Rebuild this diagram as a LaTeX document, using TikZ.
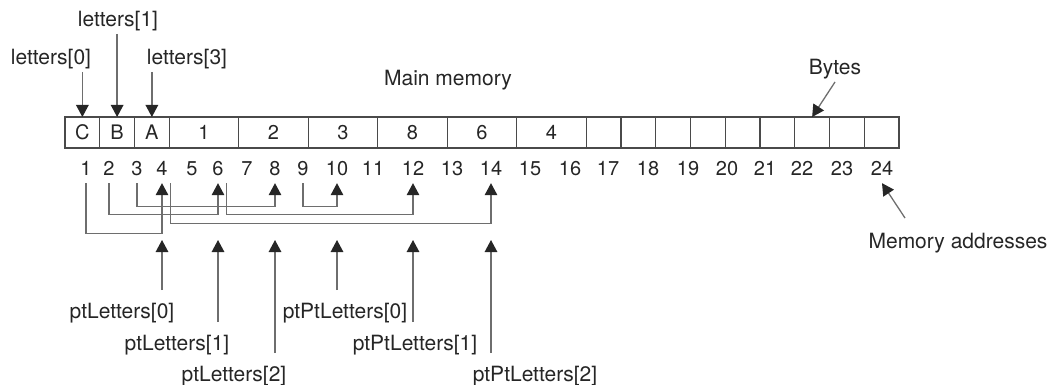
\documentclass[tikz,border=0pt]{standalone}
\usepackage{fontspec}
\setmainfont{TeX Gyre Heros}
\usetikzlibrary{arrows.meta,calc}
\definecolor{ink}{HTML}{262626}
\definecolor{wire}{HTML}{6E6E6E}
\definecolor{frame}{HTML}{4A4A4A}
\begin{document}
\begin{tikzpicture}[x=1pt,y=-1pt,
  lblfont/.style={font=\fontsize{21}{25}\selectfont, text=ink},
  numfont/.style={font=\fontsize{20}{24}\selectfont, text=ink},
  cell/.style={minimum height=31pt, inner sep=0pt, outer sep=0pt, numfont},
  rule/.style={draw=frame, line width=1.3pt},
  addr/.style={numfont, inner sep=0pt, text height=14.3pt, text depth=0pt, outer ysep=8pt},
  toplbl/.style={lblfont, anchor=base, inner sep=0pt, text height=15pt, text depth=4pt, outer ysep=3pt},
  botlbl/.style={lblfont, anchor=base, inner sep=0pt, text height=15pt, text depth=4pt, outer ysep=13pt},
  conn/.style={draw=wire, line width=1.3pt, -{Triangle[length=12pt,width=12.5pt,color=ink]}}
]
\useasboundingbox (0,0) rectangle (1055,385);

% memory cells (unit width 34.75pt, left edge at 65pt)
\foreach \l/\r/\t [count=\i] in {0/1/C,1/2/B,2/3/A,3/5/1,5/7/2,7/9/3,9/11/8,11/13/6,13/15/4,
    15/16/{},16/17/{},17/18/{},18/19/{},19/20/{},20/21/{},21/22/{},22/23/{},23/24/{}}{
  \pgfmathsetmacro\w{(\r-\l)*34.75}
  \pgfmathsetmacro\cx{65+(\l+\r)/2*34.75}
  \node[cell, minimum width=\w pt] (m\i) at (\cx,132.5) {\t};
}
% outer frame and cell dividers
\draw[rule] (m1.north west) rectangle (m18.south east);
\foreach \i in {1,...,17}{
  \draw[rule] (m\i.north east) -- (m\i.south east);
}

% memory addresses
\foreach \x [count=\i] in {86,109,137,162,192,218,247,275,303,337,373,413,452,491,530,570,608,648,688,727,765,802,842,882}{
  \node[addr] (a\i) at (\x,168) {\i};
}

% labels above the memory
\node[toplbl] (l0) at (51,65) {letters[0]};
\node[toplbl] (l1) at (118,27) {letters[1]};
\node[toplbl] (l3) at (187,65) {letters[3]};
\node[toplbl] (mm) at (448,86) {Main memory};
\node[toplbl] (bytes) at (835,75) {Bytes};
\node[toplbl] (maddr) at (958,248) {Memory addresses};

\draw[conn] (l0.south -| m1.north) -- (m1.north);
\draw[conn] (l1.south -| m2.north) -- (m2.north);
\draw[conn] (l3.south -| m3.north) -- (m3.north);
\draw[conn] (bytes.south) -- (m16.north);
\coordinate (maddrtail) at (905,218);
\draw[conn] (maddrtail) -- (a24.south);

% stored pointers: address -> address
\draw[conn] (a1.south) -- ++(0,50) -| (a4.south);
\draw[conn] (a2.south) -- ++(0,31) -| (a6.south);
\draw[conn] (a3.south) -- ++(0,23) -| (a8.south);
\draw[conn] (a9.south) -- ++(0,23) -| (a10.south);
\draw[conn] ($(a6.south)+(8.5,0)$) -- ++(0,31) -| (a12.south);
\draw[conn] ($(a4.south)+(8.5,0)$) -- ++(0,40) -| (a14.south);

% pointer names below
\node[botlbl] (pl0) at (122,318) {ptLetters[0]};
\node[botlbl] (pl1) at (177,350) {ptLetters[1]};
\node[botlbl] (pl2) at (234,381) {ptLetters[2]};
\node[botlbl] (pp0) at (345,318) {ptPtLetters[0]};
\node[botlbl] (pp1) at (415,350) {ptPtLetters[1]};
\node[botlbl] (pp2) at (535,381) {ptPtLetters[2]};

\coordinate (tiprow) at (0,240);
\draw[conn] (pl0.north -| a4.south) -- (tiprow -| a4.south);
\draw[conn] (pl1.north -| a6.south) -- (tiprow -| a6.south);
\draw[conn] (pl2.north -| a8.south) -- (tiprow -| a8.south);
\draw[conn] (pp0.north -| a10.south) -- (tiprow -| a10.south);
\draw[conn] (pp1.north -| a12.south) -- (tiprow -| a12.south);
\draw[conn] (pp2.north -| a14.south) -- (tiprow -| a14.south);
\end{tikzpicture}
\end{document}
